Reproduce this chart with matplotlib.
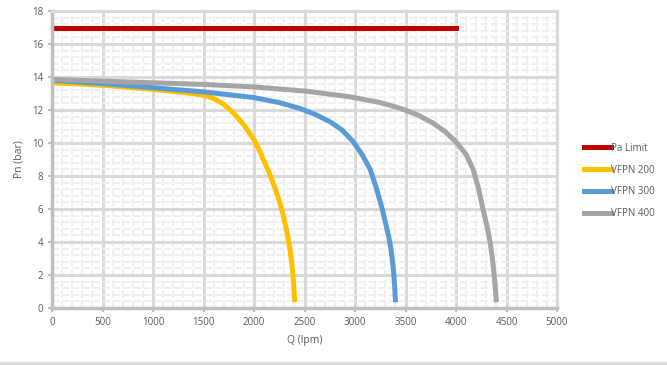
import numpy as np
import matplotlib
matplotlib.use("Agg")
import matplotlib.pyplot as plt
from matplotlib.ticker import MultipleLocator
from matplotlib.patches import Rectangle

plt.rcParams['font.family'] = ['Open Sans', 'DejaVu Sans']

# data
limit_q = [0, 4000]
limit_p = [17, 17]

q200 = [0, 250, 500, 750, 1000, 1250, 1500, 1600, 1700, 1800, 1900, 2000,
        2050, 2100, 2150, 2200, 2250, 2290, 2330, 2355, 2378, 2392, 2402]
p200 = [13.65, 13.58, 13.5, 13.38, 13.25, 13.1, 12.9, 12.7, 12.35, 11.8, 11.1, 10.2,
        9.6, 8.9, 8.2, 7.4, 6.5, 5.6, 4.5, 3.6, 2.5, 1.5, 0.5]

q300 = [0, 500, 1000, 1500, 2000, 2250, 2450, 2600, 2750, 2870, 2980, 3070,
        3150, 3210, 3270, 3310, 3335, 3355, 3370, 3382, 3392, 3400]
p300 = [13.8, 13.6, 13.35, 13.1, 12.75, 12.45, 12.1, 11.75, 11.3, 10.8, 10.1, 9.3,
        8.4, 7.3, 6.0, 4.95, 4.3, 3.6, 2.9, 2.2, 1.4, 0.5]

q400 = [0, 500, 1000, 1500, 2000, 2500, 2950, 3250, 3450, 3620, 3775, 3900,
        4010, 4100, 4170, 4225, 4270, 4310, 4340, 4358, 4373, 4387, 4398]
p400 = [13.85, 13.75, 13.65, 13.55, 13.4, 13.15, 12.8, 12.45, 12.1, 11.7, 11.2, 10.65,
        10.0, 9.3, 8.4, 7.2, 5.9, 4.9, 3.9, 3.1, 2.3, 1.4, 0.5]

labels = ["Pa Limit", "VFPN 200", "VFPN 300", "VFPN 400"]
colors = ["#C00000", "#FFC000", "#5B9BD5", "#A5A5A5"]

fig = plt.figure(figsize=(6.67, 3.65), dpi=100)
ax = fig.add_axes([52/667, 57/365, 505/667, 297/365])

lw = 3.6
ax.plot(limit_q, limit_p, color=colors[0], lw=lw, label=labels[0])
ax.plot(q200, p200, color=colors[1], lw=lw, label=labels[1], solid_joinstyle="round")
ax.plot(q300, p300, color=colors[2], lw=lw, label=labels[2], solid_joinstyle="round")
ax.plot(q400, p400, color=colors[3], lw=lw, label=labels[3], solid_joinstyle="round")

ax.set_xlim(0, 5000)
ax.set_ylim(0, 18)
ax.xaxis.set_major_locator(MultipleLocator(500))
ax.xaxis.set_minor_locator(MultipleLocator(100))
ax.yaxis.set_major_locator(MultipleLocator(2))
ax.yaxis.set_minor_locator(MultipleLocator(0.4))

ax.grid(True, which="major", color="#D9D9D9", lw=2.2)
ax.grid(True, which="minor", color="#F0F0F0", lw=1.5, ls=(0, (3.4, 1.5)))
ax.set_axisbelow(True)

for s in ["top", "right"]:
    ax.spines[s].set_color("#D9D9D9")
    ax.spines[s].set_linewidth(2.2)
for s in ["left", "bottom"]:
    ax.spines[s].set_color("#BFBFBF")
    ax.spines[s].set_linewidth(2.5)

ax.tick_params(which="major", length=3, width=1.5, color="#BFBFBF",
               labelsize=7, labelcolor="#595959")
ax.tick_params(which="minor", length=0)

ax.set_xlabel("Q (lpm)", fontsize=7.5, color="#595959", labelpad=5)
ax.set_ylabel("Pn (bar)", fontsize=7.5, color="#595959", labelpad=5)

ax.legend(loc="center left", bbox_to_anchor=(1.053, 0.428), frameon=False,
          borderaxespad=0, borderpad=0,
          fontsize=7, labelcolor="#595959", handlelength=2.8,
          handletextpad=0.05, labelspacing=1.1)

fig.patches.append(Rectangle((0, 0), 1, 3/365, transform=fig.transFigure,
                             color="#D9D9D9", zorder=0))

fig.savefig("out.png", dpi=100)
